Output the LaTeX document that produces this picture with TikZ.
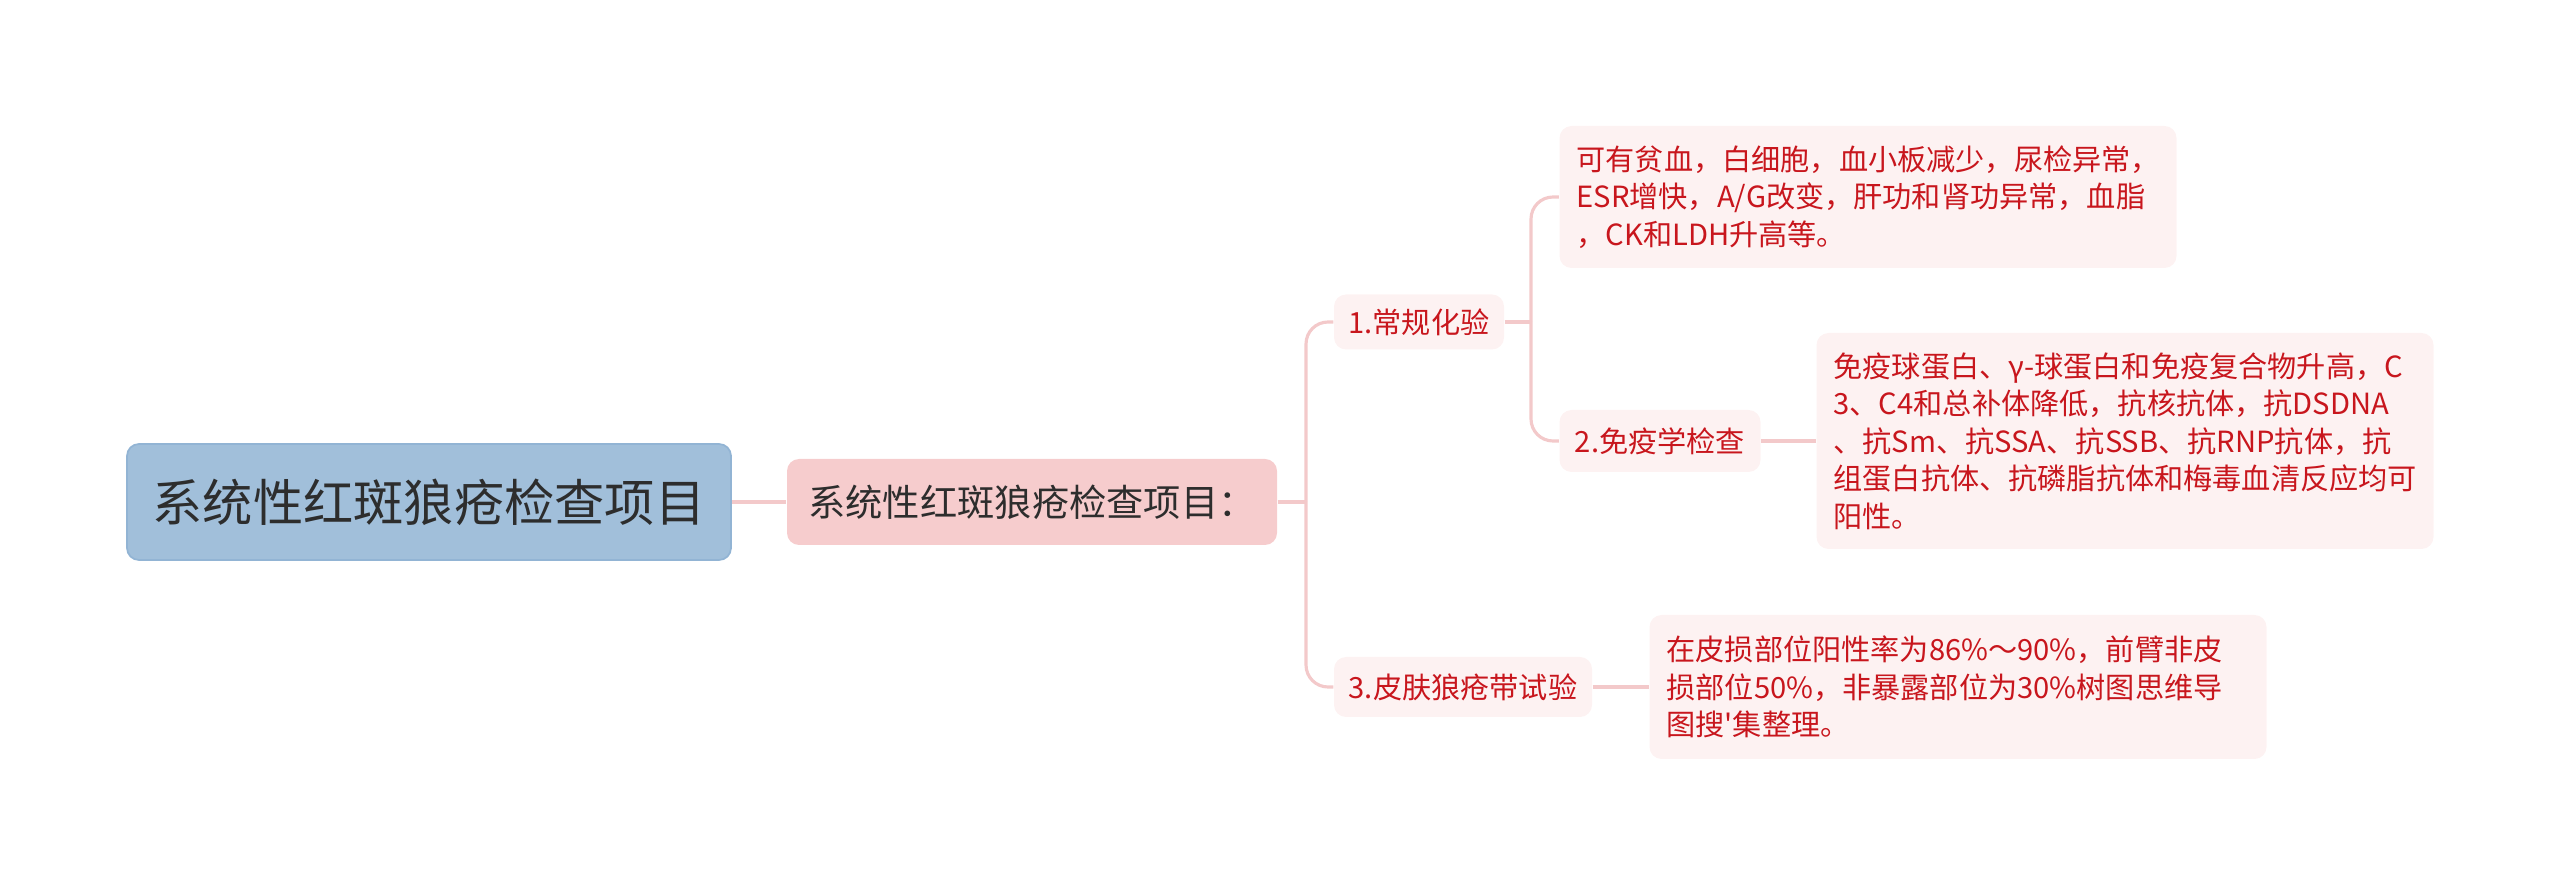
\documentclass[tikz,border=0pt]{standalone}
\usepackage{fontspec}
\setmainfont{Noto Sans CJK SC}[Ligatures=TeXOff]
\usetikzlibrary{positioning}
\definecolor{rootblue}{RGB}{161,191,218}
\definecolor{rootedge}{RGB}{146,180,212}
\definecolor{mainpink}{RGB}{246,204,205}
\definecolor{leafpink}{RGB}{253,242,242}
\definecolor{linkpink}{RGB}{243,201,202}
\definecolor{leafred}{RGB}{200,22,29}
\definecolor{darktext}{RGB}{45,45,45}

\begin{document}
\begin{tikzpicture}[
    box/.style={rounded corners=0.12cm, inner sep=0pt, align=center},
    rootbox/.style={box, fill=rootblue, draw=rootedge, line width=0.5pt, text=darktext,
      font=\fontsize{14.3pt}{17pt}\selectfont, minimum width=6.04cm, minimum height=1.16cm},
    mainbox/.style={box, fill=mainpink, text=darktext,
      font=\fontsize{10.6pt}{13pt}\selectfont, minimum width=4.90cm, minimum height=0.86cm},
    subbox/.style={box, fill=leafpink, text=leafred,
      font=\fontsize{8.3pt}{10.6pt}\selectfont, minimum height=0.60cm},
    leafbox/.style={box, fill=leafpink, text=leafred, align=left, inner xsep=0.17cm,
      text width=5.83cm, font=\fontsize{8.3pt}{10.65pt}\selectfont},
    link/.style={draw=linkpink, line width=0.9pt, rounded corners=0.22cm}
  ]
  \useasboundingbox (0,0) rectangle (25.6,8.83);

  \node[rootbox] (root) at (4.29,3.81) {系统性红斑狼疮检查项目};
  \node[mainbox] (main) at (10.32,3.81) {系统性红斑狼疮检查项目：};

  \node[subbox, minimum width=1.70cm, minimum height=0.55cm] (routine) at (14.19,5.61) {1.常规化验};
  \node[subbox, minimum width=2.01cm, minimum height=0.62cm] (immune) at (16.60,4.42) {2.免疫学检查};
  \node[subbox, minimum width=2.58cm] (skin) at (14.63,1.96) {3.皮肤狼疮带试验};

  \node[leafbox, minimum height=1.42cm] (routinetxt) at (18.68,6.86)
    {可有贫血，白细胞，血小板减少，尿检异常，\\ESR增快，A/G改变，肝功和肾功异常，血脂\\，CK和LDH升高等。};
  \node[leafbox, minimum height=2.16cm] (immunetxt) at (21.25,4.42)
    {免疫球蛋白、γ-球蛋白和免疫复合物升高，C\\3、C4和总补体降低，抗核抗体，抗DSDNA\\、抗Sm、抗SSA、抗SSB、抗RNP抗体，抗\\组蛋白抗体、抗磷脂抗体和梅毒血清反应均可\\阳性。};
  \node[leafbox, minimum height=1.44cm] (skintxt) at (19.58,1.96)
    {在皮损部位阳性率为86\%～90\%，前臂非皮\\损部位50\%，非暴露部位为30\%树图思维导\\图搜'集整理。};

  \coordinate (fork) at (13.06,3.81);
  \coordinate (subfork) at (15.31,5.61);

  \draw[link] (root) -- (main);
  \draw[link] (main) -- (fork);
  \draw[link] (fork) |- (routine.west);
  \draw[link] (fork) |- (skin.west);
  \draw[link] (routine) -- (subfork);
  \draw[link] (subfork) |- (routinetxt.west);
  \draw[link] (subfork) |- (immune.west);
  \draw[link] (immune) -- (immunetxt);
  \draw[link] (skin) -- (skintxt);
\end{tikzpicture}
\end{document}
